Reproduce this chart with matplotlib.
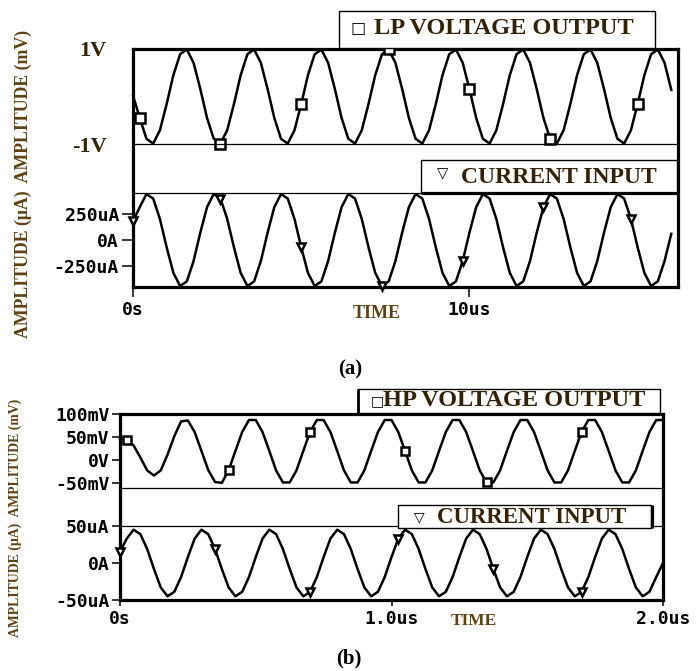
import numpy as np
import matplotlib.pyplot as plt
from matplotlib.patches import Rectangle

W, H = 698, 671

# ---------------- (a) LP filter, samples every 0.2 us over 0..16 us
a_step_us = 0.2
lp_volt = [0.02, -0.45, -0.89, -0.99, -0.71, -0.16, 0.45, 0.89, 0.99, 0.71,
           0.16, -0.45, -0.89, -0.99, -0.71, -0.16, 0.45, 0.89, 0.99, 0.71,
           0.16, -0.45, -0.89, -0.99, -0.71, -0.16, 0.45, 0.89, 0.99, 0.71,
           0.16, -0.45, -0.89, -0.99, -0.71, -0.16, 0.45, 0.89, 0.99, 0.71,
           0.16, -0.45, -0.89, -0.99, -0.71, -0.16, 0.45, 0.89, 0.99, 0.71,
           0.16, -0.45, -0.89, -0.99, -0.71, -0.16, 0.45, 0.89, 0.99, 0.71,
           0.16, -0.45, -0.89, -0.99, -0.71, -0.16, 0.45, 0.89, 0.99, 0.71,
           0.16, -0.45, -0.89, -0.99, -0.71, -0.16, 0.45, 0.89, 0.99, 0.71,
           0.14]  # V
lp_curr = [180, 318, 445, 401, 204, -70, -318, -445, -401, -204,
           70, 318, 445, 401, 204, -70, -318, -445, -401, -204,
           70, 318, 445, 401, 204, -70, -318, -445, -401, -204,
           70, 318, 445, 401, 204, -70, -318, -445, -401, -204,
           70, 318, 445, 401, 204, -70, -318, -445, -401, -204,
           70, 318, 445, 401, 204, -70, -318, -445, -401, -204,
           70, 318, 445, 401, 204, -70, -318, -445, -401, -204,
           70, 318, 445, 401, 204, -70, -318, -445, -401, -204,
           60]  # uA
lp_volt_marks = [1, 13, 25, 38, 50, 62, 75]
lp_curr_marks = [0, 13, 25, 37, 49, 61, 74]
a_xticks = [0, 10]
a_xlabels = ['0s', '10us']
a_vticks = [1, -1]
a_vlabels = ['1V', '-1V']
a_iticks = [250, 0, -250]
a_ilabels = ['250uA', '0A', '-250uA']

# ---------------- (b) HP filter, samples every 0.025 us over 0..2 us
b_step_us = 0.025
hp_volt = [48, 44, 32, 6, -22, -33, -22, 12, 52, 84,
           86, 61, 20, -21, -47, -49, -22, 20, 61, 87,
           87, 61, 20, -22, -48, -48, -22, 20, 61, 87,
           87, 61, 20, -22, -48, -48, -22, 20, 61, 87,
           87, 61, 20, -22, -48, -48, -22, 20, 61, 87,
           87, 61, 20, -22, -48, -48, -22, 20, 61, 87,
           87, 61, 20, -22, -48, -48, -22, 20, 61, 87,
           87, 61, 20, -22, -48, -48, -22, 20, 61, 87,
           87]  # mV
hp_curr = [15, 33, 45, 39, 19, -8, -33, -45, -39, -19,
           8, 33, 45, 39, 19, -8, -33, -45, -39, -19,
           8, 33, 45, 39, 19, -8, -33, -45, -39, -19,
           8, 33, 45, 39, 19, -8, -33, -45, -39, -19,
           8, 33, 45, 39, 19, -8, -33, -45, -39, -19,
           8, 33, 45, 39, 19, -8, -33, -45, -39, -19,
           8, 33, 45, 39, 19, -8, -33, -45, -39, -19,
           8, 33, 45, 39, 19, -8, -33, -45, -39, -19,
           0]  # uA
hp_volt_marks = [1, 16, 28, 42, 54, 68]
hp_curr_marks = [0, 14, 28, 41, 55, 68]
b_xticks = [0, 1.0, 2.0]
b_xlabels = ['0s', '1.0us', '2.0us']
b_vticks = [100, 50, 0, -50]
b_vlabels = ['100mV', '50mV', '0V', '-50mV']
b_iticks = [50, 0, -50]
b_ilabels = ['50uA', '0A', '-50uA']

t_a = np.arange(len(lp_volt)) * a_step_us
t_b = np.arange(len(hp_volt)) * b_step_us

SERIF = 'Liberation Serif'
MONO = 'DejaVu Sans Mono'
SYM = ['DejaVu Sans']
BROWN = '#33220a'
LABEL_BROWN = '#5e4216'
THICK = 2.3
THIN = 0.9
LW = 1.8


def fig_box(x0, y0, x1, y1):
    # pixel box (top-left origin) -> figure fraction
    return [x0 / W, 1 - y1 / H, (x1 - x0) / W, (y1 - y0) / H]


def frame_axes(box, xlim, ticks, labels, tick_len, pad):
    ax = fig.add_axes(fig_box(*box))
    ax.set_xlim(*xlim)
    ax.set_ylim(0, 1)
    ax.set_yticks([])
    ax.set_xticks(ticks, labels, fontfamily=MONO, fontweight='bold', fontsize=13)
    ax.tick_params(axis='x', length=tick_len, width=1.1, pad=pad)
    for s in ax.spines.values():
        s.set_linewidth(THICK)
    ax.set_zorder(1)
    return ax


def trace_axes(box, xlim, ylim, keep_spine):
    ax = fig.add_axes(fig_box(*box))
    ax.set_xlim(*xlim)
    ax.set_ylim(*ylim)
    ax.patch.set_visible(False)
    ax.set_xticks([])
    for name, s in ax.spines.items():
        s.set_visible(name == keep_spine)
        s.set_linewidth(THIN)
    ax.set_zorder(2)
    return ax


fig = plt.figure(figsize=(W / 100, H / 100), dpi=100)

# ---- panel (a)
frame_axes((133, 49, 678, 287), (0, 16.2), a_xticks, a_xlabels, 7, 3)

av = trace_axes((133, 49, 678, 144), (0, 16.2), (-1, 1), 'bottom')
av.plot(t_a, lp_volt, color='black', lw=LW, marker='s', markevery=lp_volt_marks,
        ms=6.5, mfc='white', mec='black', mew=1.8, clip_on=False)
av.set_yticks(a_vticks, a_vlabels, fontfamily=SERIF, fontweight='bold',
              fontsize=16, color=BROWN)
av.tick_params(axis='y', length=0, pad=19)

ai = trace_axes((133, 193, 678, 287), (0, 16.2), (-455, 455), 'top')
ai.plot(t_a, lp_curr, color='black', lw=LW, marker='v', markevery=lp_curr_marks,
        ms=6, mfc='white', mec='black', mew=1.8, clip_on=False)
ai.set_yticks(a_iticks, a_ilabels, fontfamily=MONO, fontweight='bold', fontsize=13)
ai.tick_params(axis='y', length=8, width=1.1, pad=2)

# ---- panel (b)
frame_axes((120, 414, 663, 600), (0, 2.0), b_xticks, b_xlabels, 4.5, 3)

bv = trace_axes((120, 414, 663, 488), (0, 2.0), (-60, 100), 'bottom')
bv.plot(t_b, hp_volt, color='black', lw=LW, marker='s', markevery=hp_volt_marks,
        ms=6, mfc='white', mec='black', mew=1.8, clip_on=False)
bv.set_yticks(b_vticks, b_vlabels, fontfamily=MONO, fontweight='bold', fontsize=13)
bv.tick_params(axis='y', length=6, width=1.1, pad=1.5)

bi = trace_axes((120, 526, 663, 600), (0, 2.0), (-50, 50), 'top')
bi.plot(t_b, hp_curr, color='black', lw=LW, marker='v', markevery=hp_curr_marks,
        ms=6, mfc='white', mec='black', mew=1.8, clip_on=False)
bi.set_yticks(b_iticks, b_ilabels, fontfamily=MONO, fontweight='bold', fontsize=13)
bi.tick_params(axis='y', length=6, width=1.1, pad=1.5)

# ---- overlay in pixel coordinates: legend boxes, captions, axis titles
ov = fig.add_axes([0, 0, 1, 1])
ov.set_xlim(0, W)
ov.set_ylim(H, 0)
ov.axis('off')
ov.set_zorder(5)

legend_kw = dict(fontfamily=SERIF, fontweight='bold', color=BROWN, va='baseline', ha='left')
sym_kw = dict(fontfamily=SYM, ha='center', va='center_baseline')

# (a) voltage legend
ov.add_patch(Rectangle((339, 11), 316, 36.5, fc='white', ec='black', lw=1))
ov.text(358, 26, '\u25a1', fontsize=11.5, **sym_kw)
ov.text(374, 33.5, 'LP VOLTAGE OUTPUT', fontsize=17.5, **legend_kw)

# (a) current legend
ov.add_patch(Rectangle((421, 159.5), 255.5, 33, fc='white', ec='black', lw=1))
ov.plot([421, 678], [193, 193], color='black', lw=THICK, solid_capstyle='butt')
ov.text(443, 172, '\u25bd', fontsize=10.5, **sym_kw)
ov.text(461, 182.7, 'CURRENT INPUT', fontsize=17, **legend_kw)

# (b) voltage legend
ov.add_patch(Rectangle((357.5, 389), 302, 23.5, fc='white', ec='black', lw=1))
ov.plot([358, 358], [389, 414], color='black', lw=2, solid_capstyle='butt')
ov.text(377.3, 400, '\u25a1', fontsize=10, **sym_kw)
ov.text(383, 406.5, 'HP VOLTAGE OUTPUT', fontsize=17.5, **legend_kw)

# (b) current legend
ov.add_patch(Rectangle((397.5, 505), 253, 23.3, fc='white', ec='black', lw=1))
ov.plot([651.5, 651.5], [505, 528.3], color='black', lw=THICK, solid_capstyle='butt')
ov.text(419.7, 516, '\u25bd', fontsize=10, **sym_kw)
ov.text(437, 523.3, 'CURRENT INPUT', fontsize=16.5, **legend_kw)

# axis titles
ylab = 'AMPLITUDE (\u03bcA)  AMPLITUDE (mV)'
ov.text(23.5, 184, ylab, rotation=90, ha='center', va='center', fontfamily=SERIF,
        fontweight='bold', fontsize=12.8, color=LABEL_BROWN)
ov.text(15, 518, ylab, rotation=90, ha='center', va='center', fontfamily=SERIF,
        fontweight='bold', fontsize=9.9, color=LABEL_BROWN)
ov.text(377, 314, 'TIME', ha='center', va='center', fontfamily=SERIF,
        fontweight='bold', fontsize=13, color=LABEL_BROWN)
ov.text(474, 621, 'TIME', ha='center', va='center', fontfamily=SERIF,
        fontweight='bold', fontsize=12.5, color=LABEL_BROWN)

# captions
ov.text(350, 369, '(a)', ha='center', va='center', fontfamily=SERIF,
        fontweight='bold', fontsize=15)
ov.text(349, 658, '(b)', ha='center', va='center', fontfamily=SERIF,
        fontweight='bold', fontsize=15)

fig.savefig('out.png', dpi=100)
